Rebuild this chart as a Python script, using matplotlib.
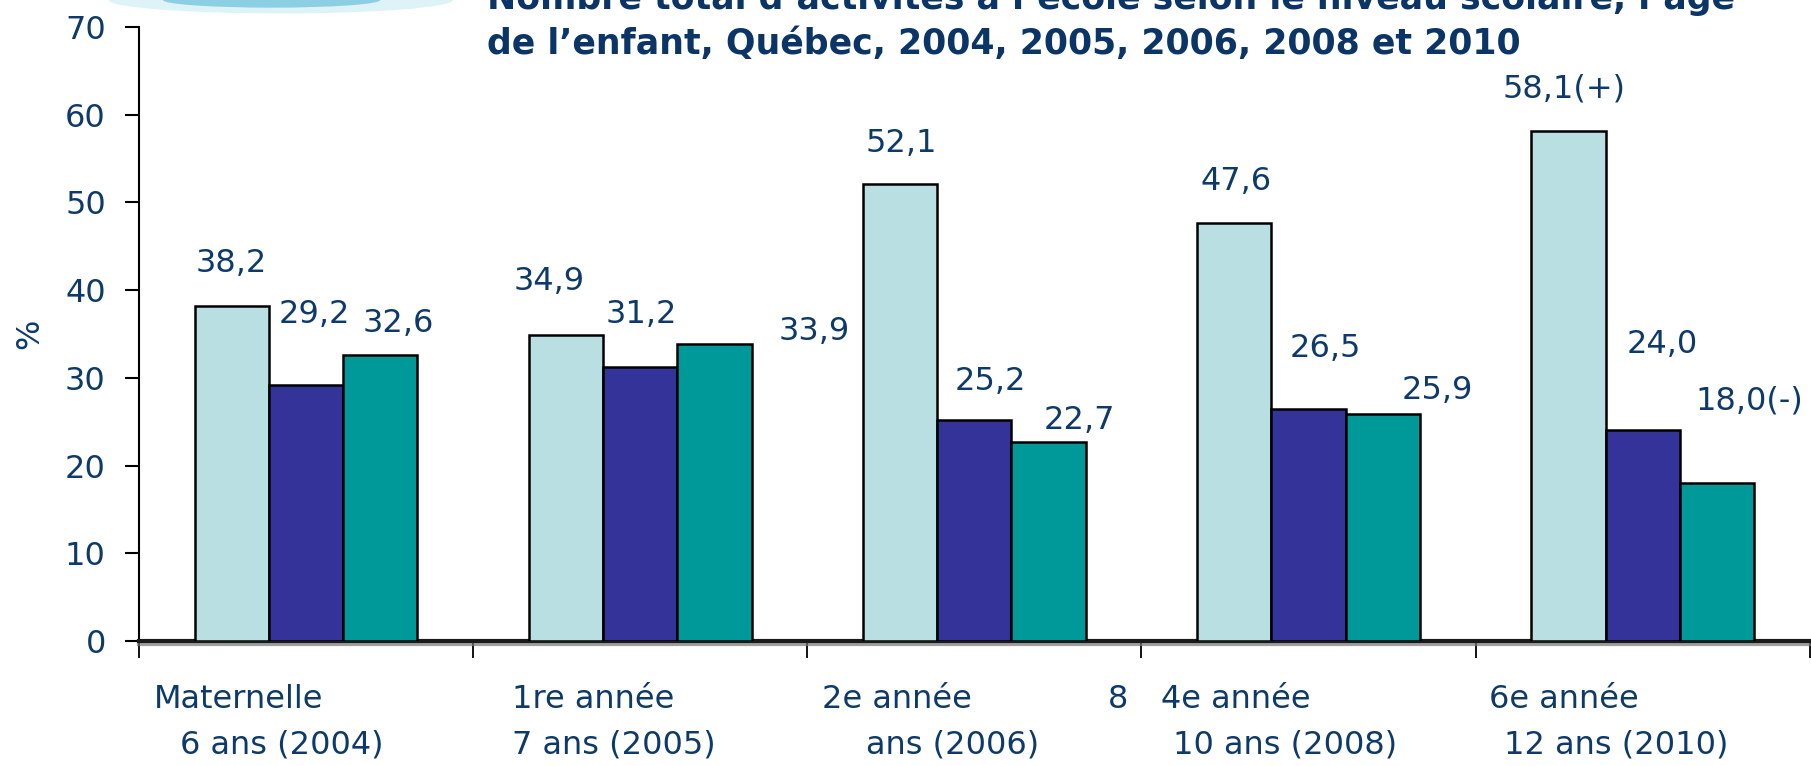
import numpy as np
import matplotlib
matplotlib.use('Agg')
import matplotlib.pyplot as plt
import matplotlib.patheffects as pe
from matplotlib.patches import Ellipse

# data
niveaux = ['Maternelle\n 6 ans (2004)', '1re année\n7 ans (2005)', '2e année\n ans (2006)',
           '4e année\n 10 ans (2008)', '6e année\n 12 ans (2010)']
serie_a = [38.2, 34.9, 52.1, 47.6, 58.1]
serie_b = [29.2, 31.2, 25.2, 26.5, 24.0]
serie_c = [32.6, 33.9, 22.7, 25.9, 18.0]
lab_a = ['38,2', '34,9', '52,1', '47,6', '58,1(+)']
lab_b = ['29,2', '31,2', '25,2', '26,5', '24,0']
lab_c = ['32,6', '33,9', '22,7', '25,9', '18,0(-)']
yticks = [0, 10, 20, 30, 40, 50, 60, 70]
titre1 = "Nombre total d’activités à l’école selon le niveau scolaire, l’âge"
titre2 = "de l’enfant, Québec, 2004, 2005, 2006, 2008 et 2010"

# layout (label offsets from bar top / centre, in data units)
dx_a = [-0.002, -0.052, 0.002, 0.004, -0.012]
dy_a = [4.8, 6.1, 4.6, 4.8, 4.8]
dx_b = [0.025, 0.003, 0.049, 0.051, 0.06]
dy_b = [8.0, 6.0, 4.4, 6.8, 9.8]
dx_c = [0.055, 0.299, 0.093, 0.164, 0.097]
dy_c = [3.6, 1.4, 2.4, 2.7, 9.4]
# category label text anchors (left edge, in category units)
line1_x = [0.045, 1.116, 2.045, 3.057, 4.04]
line2_x = [0.121, 1.116, 2.176, 3.095, 4.086]

S = {
    'colors': ['#B9DFE2', '#343399', '#009999'],
    'text': '#0D3A6B',
    'title': '#0A3566',
    'font': 'DejaVu Sans',
    'fs': 23,
    'width': 0.222,
}

plt.rcParams['font.family'] = [S['font']]
fig = plt.figure(figsize=(18.11, 7.66), dpi=100)
ax = fig.add_axes([0.0768, 0.1632, 0.9225, 0.8016])

x = np.arange(len(niveaux)) + 0.5
w = S['width']
for k, (vals, labs, dxs, dys) in enumerate([(serie_a, lab_a, dx_a, dy_a),
                                            (serie_b, lab_b, dx_b, dy_b),
                                            (serie_c, lab_c, dx_c, dy_c)]):
    xs = x + (k - 1) * w
    ax.bar(xs, vals, width=w, color=S['colors'][k], edgecolor='black', linewidth=1.8, zorder=3)
    for xi, v, t, dx, dy in zip(xs, vals, labs, dxs, dys):
        ax.text(xi + dx, v + dy, t, ha='center', va='center', fontsize=S['fs'], color=S['text'])

ax.set_xlim(0, 5)
ax.set_ylim(0, 70)
ax.set_yticks(yticks)
ax.set_yticklabels([str(t) for t in yticks], fontsize=S['fs'], color=S['text'])
ax.set_xticks(np.arange(0, 6))
ax.set_xticklabels([])
ax.tick_params(axis='y', direction='out', length=10, width=1.5, pad=14)
ax.tick_params(axis='x', direction='out', length=12, width=1.3)
ax.set_ylabel('%', fontsize=S['fs'], color=S['text'], labelpad=14)

for sp in ['top', 'right']:
    ax.spines[sp].set_visible(False)
ax.spines['left'].set_linewidth(1.5)
ax.spines['bottom'].set_linewidth(3)
ax.spines['bottom'].set_color('#1a1a1a')
ax.spines['bottom'].set_path_effects([
    pe.SimpleLineShadow(offset=(0, -2.5), shadow_color='#777777', alpha=0.7),
    pe.Normal()])

trans = ax.get_xaxis_transform()
for i, lab in enumerate(niveaux):
    l1, l2 = lab.split('\n')
    ax.text(line1_x[i], -0.0945, l1, transform=trans, ha='left', va='center',
            fontsize=S['fs'], color=S['text'])
    ax.text(line2_x[i], -0.169, l2.strip(), transform=trans, ha='left', va='center',
            fontsize=S['fs'], color=S['text'])
# stray "8" from the wrapped "8 ans" label
ax.text(2.93, -0.0945, '8', transform=trans, ha='center', va='center',
        fontsize=S['fs'], color=S['text'])

# decorative swoosh at top left
fig.patches.append(Ellipse((0.155, 1.0), 0.19, 0.035, transform=fig.transFigure,
                           facecolor='#DDF3F8', edgecolor='none'))
fig.patches.append(Ellipse((0.15, 1.0), 0.12, 0.02, transform=fig.transFigure,
                           facecolor='#8CCFE2', edgecolor='none'))

fig.text(0.269, 0.988, titre1, fontsize=25, fontweight='bold', color=S['title'],
         ha='left', va='baseline')
fig.text(0.269, 0.9295, titre2, fontsize=25, fontweight='bold', color=S['title'],
         ha='left', va='baseline')

fig.savefig('out.png', dpi=100)
